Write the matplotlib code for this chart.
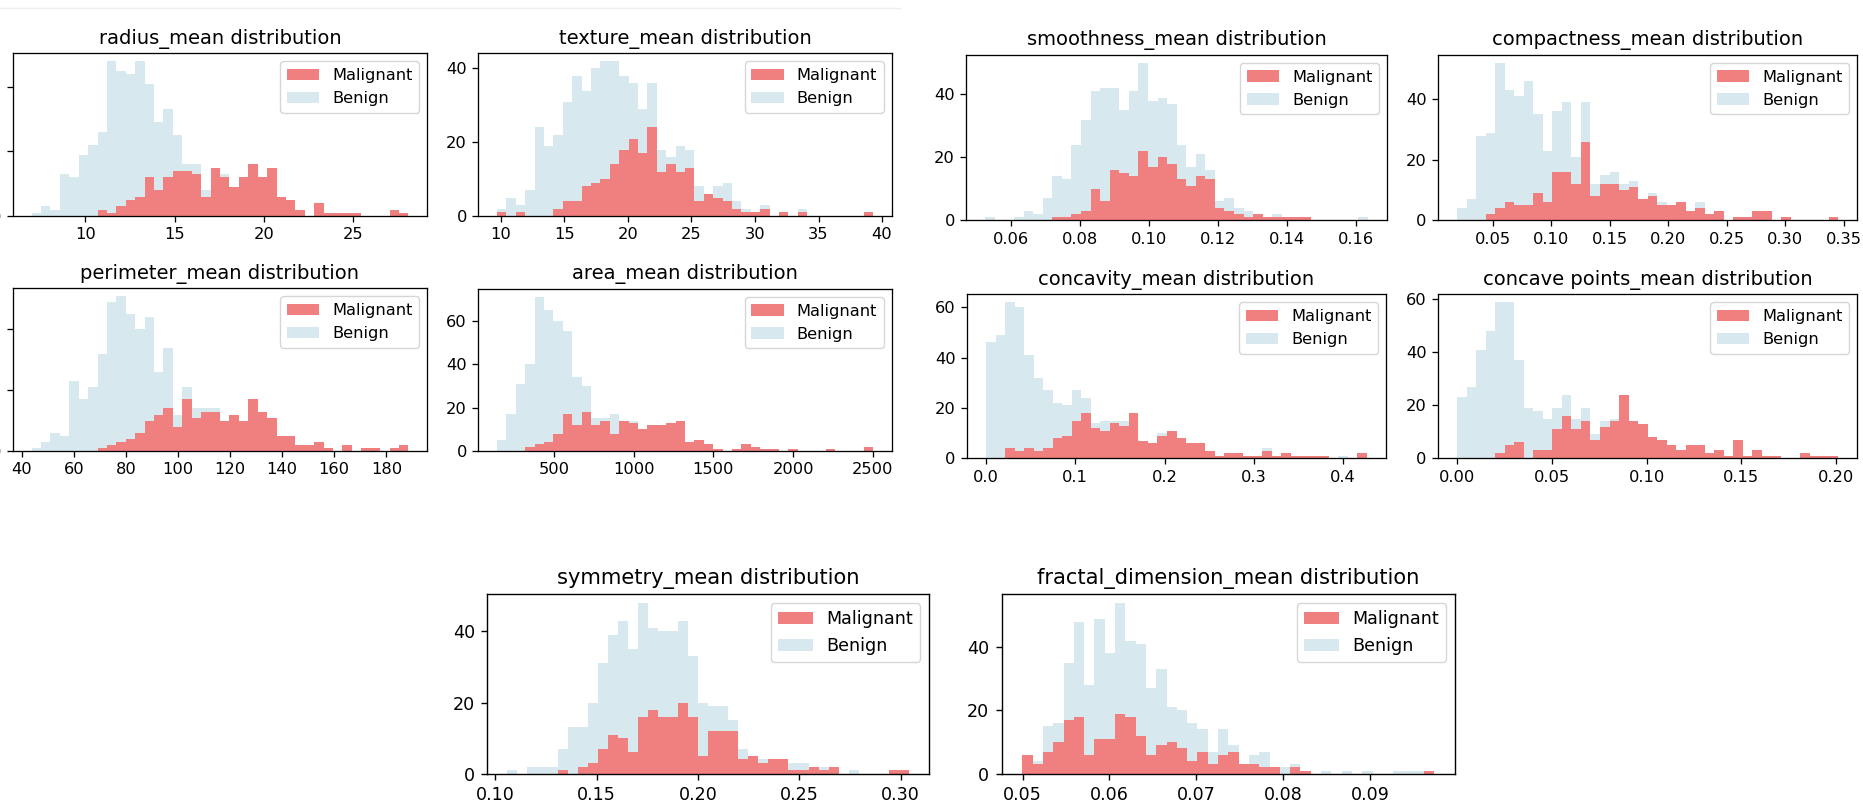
import matplotlib
matplotlib.use('Agg')
import matplotlib.pyplot as plt
import numpy as np
from matplotlib.ticker import MultipleLocator
from matplotlib.lines import Line2D

W, H = 1863, 805
RED = '#F08080'
BLUE = '#D7E8EF'

# bin range (min, max of each feature), 40 shared bins
radius_range = (6.981, 28.11)
texture_range = (9.71, 39.28)
perimeter_range = (43.79, 188.5)
area_range = (143.5, 2501.0)
smoothness_range = (0.05263, 0.1634)
compactness_range = (0.01938, 0.3454)
concavity_range = (0.0, 0.4268)
concave_range = (0.0, 0.2012)
symmetry_range = (0.106, 0.304)
fractal_range = (0.04996, 0.09744)

# counts per bin
radius_mal = [0, 0, 0, 0, 0, 0, 0, 2, 1, 3, 5, 6, 12, 8, 12, 14, 14, 13, 6, 15,
              12, 9, 12, 16, 12, 15, 6, 5, 2, 0, 4, 1, 1, 1, 1, 0, 0, 0, 2, 1]
radius_ben = [1, 3, 2, 13, 12, 19, 22, 24, 47, 42, 39, 42, 29, 21, 21, 11, 2, 3, 2, 0,
              1, 0, 0, 0, 0, 0, 0, 0, 0, 0, 0, 0, 0, 0, 0, 0, 0, 0, 0, 0]
texture_mal = [1, 0, 1, 0, 0, 0, 2, 4, 4, 8, 9, 10, 14, 18, 21, 17, 24, 12, 14, 12,
               13, 4, 6, 5, 4, 2, 1, 1, 2, 0, 1, 0, 1, 0, 0, 0, 0, 0, 0, 1]
texture_ben = [1, 5, 2, 7, 24, 19, 20, 27, 34, 26, 31, 32, 28, 20, 15, 12, 12, 6, 2, 7,
               5, 4, 0, 3, 5, 2, 1, 0, 1, 0, 0, 0, 1, 0, 0, 0, 0, 0, 0, 0]
smoothness_mal = [0, 0, 0, 0, 0, 0, 0, 1, 1, 2, 3, 10, 6, 16, 15, 14, 22, 17, 20, 18,
                  13, 11, 14, 13, 4, 3, 2, 1, 2, 1, 1, 1, 1, 1, 0, 0, 0, 0, 0, 0]
smoothness_ben = [1, 0, 0, 1, 3, 2, 7, 13, 12, 22, 29, 31, 36, 26, 20, 27, 28, 21, 19, 19,
                  11, 6, 7, 3, 2, 4, 2, 2, 0, 0, 1, 0, 0, 0, 0, 0, 0, 0, 0, 1]
compactness_mal = [0, 0, 0, 2, 4, 6, 5, 5, 9, 6, 16, 16, 12, 26, 8, 12, 12, 10, 11, 7,
                   8, 5, 5, 6, 3, 4, 2, 3, 0, 1, 1, 3, 3, 0, 1, 0, 0, 0, 0, 1]
compactness_ben = [4, 7, 28, 27, 48, 37, 36, 41, 26, 17, 20, 23, 9, 13, 4, 3, 4, 2, 2, 0,
                   1, 1, 0, 0, 0, 2, 0, 0, 0, 0, 0, 0, 0, 0, 0, 0, 0, 0, 0, 0]
perimeter_mal = [0, 0, 0, 0, 0, 0, 0, 1, 2, 3, 4, 6, 10, 12, 14, 8, 17, 11, 13, 13,
                 10, 12, 10, 17, 13, 11, 5, 5, 2, 2, 3, 1, 0, 2, 0, 1, 1, 0, 1, 2]
perimeter_ben = [1, 3, 6, 5, 23, 17, 21, 31, 47, 48, 41, 34, 34, 14, 20, 4, 4, 3, 1, 1,
                 0, 0, 0, 0, 0, 0, 0, 0, 0, 0, 0, 0, 0, 0, 0, 0, 0, 0, 0, 0]
area_mal = [0, 0, 0, 2, 3, 4, 8, 17, 12, 18, 12, 14, 8, 14, 13, 10, 12, 12, 13, 14,
            4, 5, 3, 1, 0, 1, 3, 2, 1, 1, 0, 1, 0, 0, 0, 1, 0, 0, 0, 2]
area_ben = [5, 17, 31, 38, 68, 61, 52, 38, 22, 12, 3, 1, 9, 0, 1, 0, 0, 0, 0, 0,
            0, 0, 0, 0, 0, 0, 0, 0, 0, 0, 0, 0, 0, 0, 0, 0, 0, 0, 0, 0]
concavity_mal = [0, 0, 4, 3, 4, 3, 4, 8, 9, 15, 18, 12, 11, 14, 13, 18, 7, 6, 9, 11,
                 8, 6, 6, 3, 1, 2, 2, 1, 1, 3, 1, 2, 1, 1, 1, 1, 0, 0, 0, 2]
concavity_ben = [46, 49, 58, 57, 37, 29, 23, 14, 12, 12, 6, 2, 4, 1, 2, 0, 0, 0, 1, 0,
                 0, 0, 0, 0, 0, 0, 0, 0, 0, 1, 0, 0, 0, 0, 0, 0, 0, 1, 0, 0]
concave_mal = [0, 0, 0, 0, 2, 5, 6, 0, 3, 3, 11, 16, 11, 14, 7, 12, 14, 24, 14, 13,
               8, 7, 5, 3, 5, 5, 2, 3, 1, 7, 1, 3, 1, 1, 0, 0, 2, 1, 1, 1]
concave_ben = [23, 27, 41, 48, 57, 54, 31, 19, 15, 12, 8, 8, 4, 5, 2, 2, 1, 0, 0, 0,
               0, 0, 0, 0, 0, 0, 0, 0, 0, 0, 0, 0, 0, 0, 0, 0, 0, 0, 0, 0]
symmetry_mal = [0, 0, 0, 0, 0, 1, 0, 2, 3, 7, 11, 10, 6, 16, 18, 16, 16, 20, 16, 5,
                12, 12, 12, 4, 5, 3, 4, 4, 1, 1, 2, 1, 2, 0, 0, 0, 0, 0, 1, 1]
symmetry_ben = [1, 0, 2, 2, 2, 6, 13, 11, 17, 24, 28, 33, 29, 32, 23, 24, 24, 23, 17, 15,
                7, 7, 3, 3, 0, 1, 0, 0, 2, 2, 0, 1, 0, 0, 1, 0, 0, 0, 0, 0]
fractal_mal = [6, 3, 7, 10, 17, 18, 6, 11, 11, 19, 18, 12, 6, 9, 10, 8, 4, 7, 3, 6,
               7, 3, 3, 2, 2, 0, 2, 1, 0, 0, 0, 0, 0, 0, 0, 0, 0, 0, 0, 1]
fractal_ben = [0, 1, 8, 6, 18, 30, 22, 38, 27, 35, 24, 29, 21, 24, 11, 12, 12, 7, 4, 8,
               2, 0, 3, 5, 0, 2, 1, 0, 0, 1, 0, 1, 0, 1, 0, 0, 1, 1, 1, 0]

panels = [
    ('radius_mean', radius_range, radius_mal, radius_ben, 5),
    ('texture_mean', texture_range, texture_mal, texture_ben, 5),
    ('smoothness_mean', smoothness_range, smoothness_mal, smoothness_ben, 0.02),
    ('compactness_mean', compactness_range, compactness_mal, compactness_ben, 0.05),
    ('perimeter_mean', perimeter_range, perimeter_mal, perimeter_ben, 20),
    ('area_mean', area_range, area_mal, area_ben, 500),
    ('concavity_mean', concavity_range, concavity_mal, concavity_ben, 0.1),
    ('concave points_mean', concave_range, concave_mal, concave_ben, 0.05),
    ('symmetry_mean', symmetry_range, symmetry_mal, symmetry_ben, 0.05),
    ('fractal_dimension_mean', fractal_range, fractal_mal, fractal_ben, 0.01),
]

# axes boxes in pixels: left, top, right, bottom, scale of the screenshot
boxes = [
    (12.7, 53.3, 427.3, 216.0, 1.17),
    (478.3, 53.3, 891.7, 216.0, 1.17),
    (966.3, 55.0, 1387.0, 220.3, 1.17),
    (1438.0, 55.0, 1857.3, 220.3, 1.17),
    (12.7, 288.3, 427.3, 451.0, 1.17),
    (478.3, 289.0, 891.7, 451.0, 1.17),
    (967.0, 294.3, 1386.0, 458.3, 1.17),
    (1438.0, 294.3, 1857.3, 458.3, 1.17),
    (487.3, 594.3, 929.0, 773.7, 1.26),
    (1001.7, 594.3, 1455.0, 773.7, 1.26),
]

fig = plt.figure(figsize=(W / 100, H / 100), dpi=100)

# faint border of the first screenshot
fig.add_artist(Line2D([0, 900 / W], [1 - 8 / H, 1 - 8 / H], color='#eeeeee', lw=1))

for (name, rng, mal, ben, xstep), (l, t, r, b, s) in zip(panels, boxes):
    ax = fig.add_axes([l / W, 1 - b / H, (r - l) / W, (b - t) / H])
    edges = np.linspace(rng[0], rng[1], len(mal) + 1)
    mids = (edges[:-1] + edges[1:]) / 2
    ax.hist([mids, mids], bins=edges, weights=[mal, ben], stacked=True,
            color=[RED, BLUE], label=['Malignant', 'Benign'])
    fs = 10 * s
    ax.set_title(f'{name} distribution', fontsize=fs * 1.2, pad=6 * s)
    ax.legend(loc='upper right', fontsize=fs)
    ax.xaxis.set_major_locator(MultipleLocator(xstep))
    ax.yaxis.set_major_locator(MultipleLocator(20))
    ax.tick_params(labelsize=fs, length=3.5 * s, width=0.8 * s, pad=3.5 * s)
    for sp in ax.spines.values():
        sp.set_linewidth(0.8 * s)

fig.savefig('out.png', dpi=100)
